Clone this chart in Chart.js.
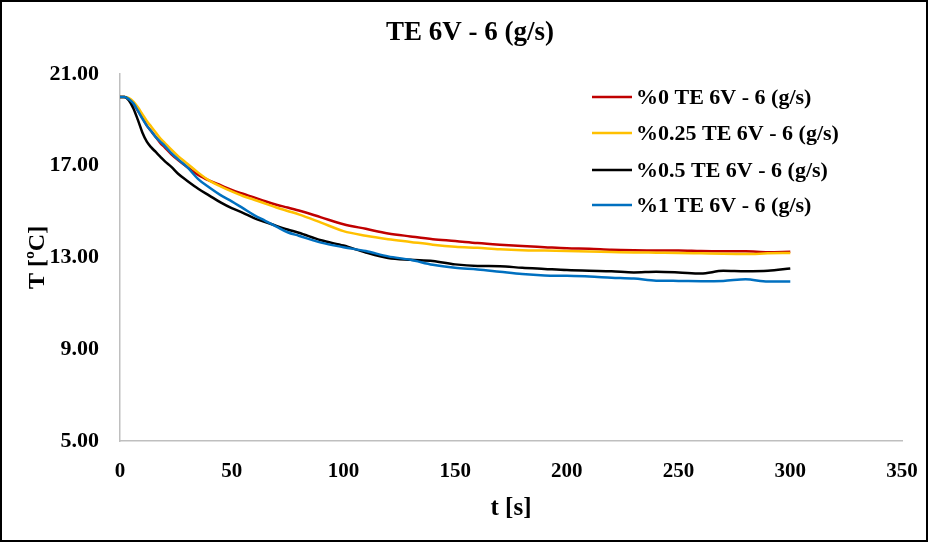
<!DOCTYPE html>
<html>
<head>
<meta charset="utf-8">
<script src="https://cdn.jsdelivr.net/npm/chart.js@4/dist/chart.umd.min.js"></script>
<style>
html,body{margin:0;padding:0;background:#fff;}
#wrap{width:928px;height:542px;position:relative;}
</style>
</head>
<body>
<div id="wrap"><canvas id="c" width="928" height="542"></canvas></div>
<script>
const chartTitle = "TE 6V - 6 (g/s)";
const xTitle = "t [s]";
const yTitle = "T [ºC]";
const seriesLabels = ["%0 TE 6V - 6 (g/s)", "%0.25 TE 6V - 6 (g/s)", "%0.5 TE 6V - 6 (g/s)", "%1 TE 6V - 6 (g/s)"];
const seriesColors = ["#C00000", "#FFC000", "#000000", "#0070C0"];
const times = [0,2,4,6,8,10,12,14,16,18,20,23,26,30,35,40,45,50,55,60,65,70,75,80,90,100,110,120,130,140,150,160,170,180,190,200,210,220,230,240,250,260,270,280,290,300];
const te0 = [20.0,20.0,19.9,19.7,19.4,19.1,18.75,18.5,18.25,18.0,17.8,17.5,17.25,16.95,16.6,16.35,16.15,15.95,15.78,15.62,15.45,15.3,15.18,15.05,14.75,14.45,14.25,14.05,13.92,13.8,13.72,13.63,13.56,13.5,13.45,13.4,13.38,13.34,13.32,13.31,13.31,13.28,13.27,13.27,13.23,13.25];
const te025 = [20.0,20.0,19.95,19.8,19.55,19.25,18.95,18.7,18.45,18.2,18.0,17.7,17.42,17.1,16.7,16.35,16.1,15.88,15.68,15.52,15.35,15.18,15.03,14.88,14.52,14.15,13.95,13.8,13.68,13.56,13.47,13.42,13.36,13.32,13.3,13.28,13.26,13.24,13.22,13.21,13.2,13.18,13.16,13.15,13.18,13.2];
const te05 = [20.0,20.0,19.85,19.5,19.0,18.45,18.05,17.8,17.6,17.4,17.2,16.95,16.65,16.35,16.0,15.7,15.4,15.15,14.95,14.72,14.55,14.38,14.22,14.08,13.75,13.52,13.22,12.98,12.9,12.85,12.7,12.63,12.62,12.55,12.5,12.45,12.42,12.4,12.35,12.38,12.35,12.3,12.42,12.4,12.42,12.52];
const te1 = [20.0,20.0,19.9,19.72,19.4,19.05,18.75,18.5,18.25,18.05,17.87,17.55,17.28,16.95,16.42,16.05,15.72,15.45,15.15,14.85,14.6,14.35,14.1,13.95,13.65,13.45,13.28,13.05,12.9,12.68,12.55,12.48,12.38,12.28,12.22,12.2,12.17,12.12,12.08,11.99,11.98,11.97,11.98,12.05,11.95,11.95];
const xTicks = [0,50,100,150,200,250,300,350];
const yTicks = [5,9,13,17,21];

const seriesValues = [te0, te025, te05, te1];
const serif = "'Liberation Serif', 'Times New Roman', serif";

const datasets = seriesValues.map((vals, i) => ({
  label: seriesLabels[i],
  data: times.map((t, j) => ({x: t, y: vals[j]})),
  borderColor: seriesColors[i],
  backgroundColor: seriesColors[i],
  borderWidth: 2.5,
  pointRadius: 0,
  cubicInterpolationMode: 'monotone',
  fill: false,
  order: 4 - i
}));

const decor = {
  id: 'decor',
  beforeDraw(chart) {
    const ctx = chart.ctx;
    ctx.save();
    ctx.fillStyle = '#fff';
    ctx.fillRect(0, 0, chart.width, chart.height);
    ctx.restore();
  },
  afterDraw(chart) {
    const ctx = chart.ctx;
    ctx.save();
    ctx.strokeStyle = '#000';
    ctx.lineWidth = 2;
    ctx.strokeRect(1, 1, chart.width - 2, chart.height - 2);
    ctx.fillStyle = '#000';
    ctx.font = "bold 27px " + serif;
    ctx.textAlign = 'center';
    ctx.textBaseline = 'middle';
    ctx.fillText(chartTitle, 470, 33);
    const rows = [97, 133, 170, 205];
    ctx.font = "bold 22px " + serif;
    ctx.textAlign = 'left';
    chart.data.datasets.forEach((ds, i) => {
      const y = rows[i];
      ctx.strokeStyle = ds.borderColor;
      ctx.lineWidth = 2.5;
      ctx.beginPath();
      ctx.moveTo(592, y);
      ctx.lineTo(632, y);
      ctx.stroke();
      ctx.fillStyle = '#000';
      ctx.fillText(ds.label, 636, y + 1);
    });
    ctx.restore();
  }
};

new Chart(document.getElementById('c'), {
  type: 'line',
  data: { datasets },
  options: {
    responsive: false,
    animation: false,
    layout: { padding: { top: 74, right: 26, bottom: 0, left: 0 } },
    plugins: {
      legend: { display: false },
      title: { display: false },
      tooltip: { enabled: false }
    },
    scales: {
      x: {
        type: 'linear',
        min: 0, max: 350,
        afterBuildTicks(scale) { scale.ticks = xTicks.map(v => ({value: v})); },
        afterFit(scale) { scale.height = 101; scale.paddingLeft = 0; scale.paddingRight = 0; },
        grid: { display: false, drawTicks: false },
        border: { display: true, color: '#BFBFBF', width: 1.5 },
        ticks: { color: '#000', font: { family: serif, size: 21, weight: 'bold' }, padding: 18, maxRotation: 0 },
        title: { display: true, text: xTitle, color: '#000', font: { family: serif, size: 25, weight: 'bold' }, padding: { top: 0, bottom: 18 } }
      },
      y: {
        type: 'linear',
        min: 5, max: 21,
        afterBuildTicks(scale) { scale.ticks = yTicks.map(v => ({value: v})); },
        afterFit(scale) { scale.width = 120; scale.paddingTop = 0; scale.paddingBottom = 0; },
        grid: { display: false, drawTicks: false },
        border: { display: true, color: '#BFBFBF', width: 1.5 },
        ticks: { color: '#000', font: { family: serif, size: 22, weight: 'bold' }, padding: 21, callback: v => Number(v).toFixed(2) },
        title: { display: true, text: yTitle, color: '#000', font: { family: serif, size: 24, weight: 'bold' }, padding: { top: 23, bottom: 0 } }
      }
    }
  },
  plugins: [decor]
});
</script>
</body>
</html>
